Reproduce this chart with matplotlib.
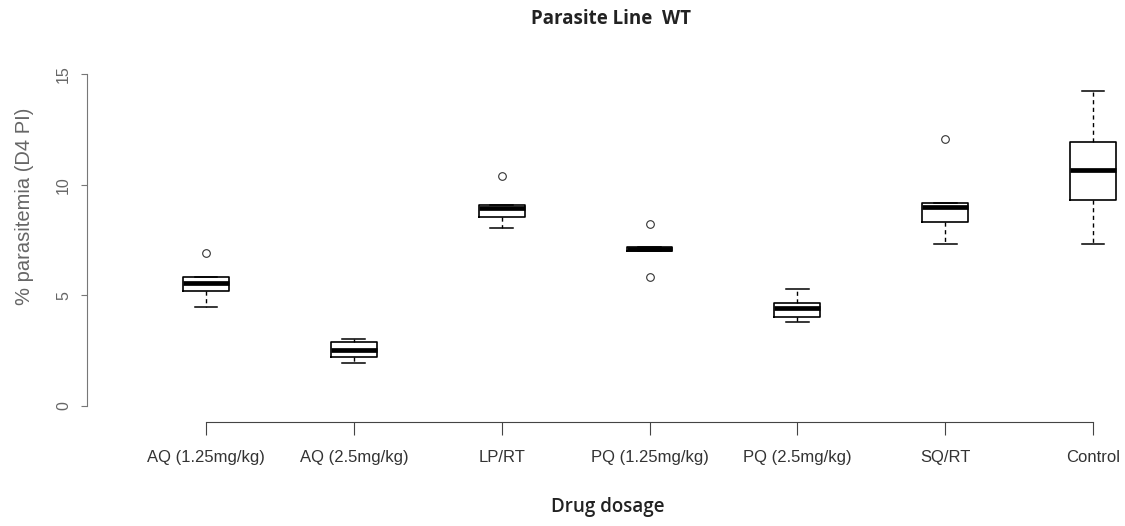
import numpy as np
import matplotlib
matplotlib.use("Agg")
from matplotlib import pyplot as plt

# box summaries (one entry per drug group)
groups = ["AQ (1.25mg/kg)", "AQ (2.5mg/kg)", "LP/RT", "PQ (1.25mg/kg)",
          "PQ (2.5mg/kg)", "SQ/RT", "Control"]
whislo = [4.46, 1.93, 8.03, 7.00, 3.81, 7.34, 7.34]
q1 = [5.21, 2.20, 8.55, 7.02, 4.01, 8.33, 9.32]
med = [5.57, 2.53, 8.96, 7.11, 4.44, 9.01, 10.68]
q3 = [5.81, 2.91, 9.08, 7.20, 4.64, 9.19, 11.95]
whishi = [5.81, 3.01, 9.08, 7.20, 5.27, 9.19, 14.21]
fliers = [[6.90], [], [10.40], [8.22, 5.81], [], [12.05], []]

stats = []
for i, name in enumerate(groups):
    stats.append(dict(label=name, whislo=whislo[i], q1=q1[i], med=med[i],
                      q3=q3[i], whishi=whishi[i], fliers=fliers[i]))

fig = plt.figure(figsize=(11.25, 5.26), dpi=100)
ax = fig.add_axes([87 / 1125, 104 / 526, 1 - 87 / 1125, 362 / 526])

pos = np.arange(1, len(groups) + 1)
ax.bxp(stats, positions=pos, widths=0.31, showfliers=True,
       boxprops=dict(color="black", linewidth=1.2),
       medianprops=dict(color="black", linewidth=3.4, solid_capstyle="butt"),
       whiskerprops=dict(color="black", linewidth=1.0, linestyle=(0, (3, 2.5))),
       capprops=dict(color="black", linewidth=1.1),
       capwidths=0.155,
       flierprops=dict(marker="o", markersize=5.5, markerfacecolor="none",
                       markeredgecolor="#333333", markeredgewidth=0.8))

ax.set_xlim(1 - 119 / 147.8, 7 + 32 / 147.8)
ax.set_ylim(-16 / 22.13, 15 + 14 / 22.13)

for s in ["top", "right"]:
    ax.spines[s].set_visible(False)
ax.spines["left"].set_bounds(0, 15)
ax.spines["left"].set_color("#777777")
ax.spines["bottom"].set_bounds(1, 7)
ax.spines["bottom"].set_color("#444444")

ax.set_yticks([0, 5, 10, 15])
ax.set_yticklabels(["0", "5", "10", "15"], rotation=90, va="center",
                   family=["Liberation Sans", "DejaVu Sans"], fontsize=11.5,
                   color="#666666")
ax.tick_params(axis="y", length=4.5, pad=7, color="#777777")

ax.set_xticks(pos)
ax.set_xticklabels(groups, family=["Liberation Sans Narrow", "Liberation Sans"],
                   fontsize=12, color="#333333")
ax.tick_params(axis="x", length=9, pad=11, color="#444444")

fig.text(25 / 1125, 1 - 206 / 526, "% parasitemia (D4 PI)", rotation=90,
         ha="center", va="center", fontsize=14.5, color="#666666",
         family=["Liberation Sans", "DejaVu Sans"])
fig.text(611 / 1125, 1 - 19 / 526, "Parasite Line  WT", ha="center", va="center",
         fontsize=13.5, fontweight="bold", family=["Open Sans", "DejaVu Sans"],
         color="#222222")
fig.text(608 / 1125, 1 - 507 / 526, "Drug dosage", ha="center", va="center",
         fontsize=13.5, fontweight="semibold", family=["Open Sans", "DejaVu Sans"],
         color="#222222")

fig.savefig("out.png", dpi=100)
